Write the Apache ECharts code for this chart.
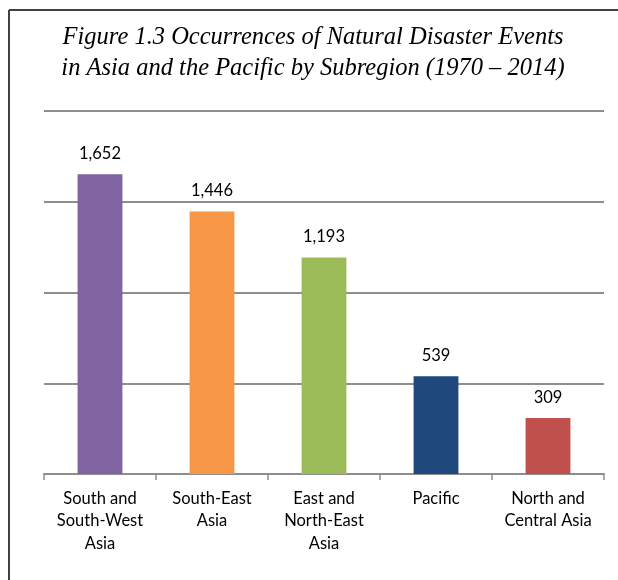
<!DOCTYPE html>
<html>
<head>
<meta charset="utf-8">
<script src="https://cdn.jsdelivr.net/npm/echarts@6/dist/echarts.min.js"></script>
<style>
html,body{margin:0;padding:0;background:#fff;overflow:hidden;}
#c{width:618px;height:580px;}
</style>
</head>
<body>
<div id="c"></div>
<script>
const titleLines = ['Figure 1.3 Occurrences of Natural Disaster Events', 'in Asia and the Pacific by Subregion (1970 \u2013 2014)'];
const categories = ['South and\nSouth-West\nAsia', 'South-East\nAsia', 'East and\nNorth-East\nAsia', 'Pacific', 'North and\nCentral Asia'];
const values = [1652, 1446, 1193, 539, 309];
const colors = ['#8064A2', '#F79646', '#9BBB59', '#1F497D', '#C0504D'];
const yTicks = { min: 0, max: 2000, interval: 500 };

const chart = echarts.init(document.getElementById('c'), null, { renderer: 'canvas' });
chart.setOption({
  animation: false,
  backgroundColor: '#fff',
  title: {
    text: titleLines.join('\n'),
    left: 308,
    top: 17,
    textAlign: 'center',
    textStyle: {
      fontFamily: 'Liberation Serif',
      fontStyle: 'italic',
      fontWeight: 'normal',
      fontSize: 24.5,
      lineHeight: 31,
      color: '#000'
    }
  },
  graphic: [
    { type: 'line', shape: { x1: 9, y1: 10, x2: 700, y2: 10 }, style: { stroke: '#404040', lineWidth: 2 }, silent: true },
    { type: 'line', shape: { x1: 9, y1: 10, x2: 9, y2: 700 }, style: { stroke: '#404040', lineWidth: 2 }, silent: true }
  ],
  grid: { left: 44, right: 14, top: 111, bottom: 106 },
  xAxis: {
    type: 'category',
    data: categories,
    axisLine: { lineStyle: { color: '#8e8e8e', width: 2 } },
    axisTick: { show: true, length: 6, alignWithLabel: false, lineStyle: { color: '#8e8e8e', width: 1.5 } },
    axisLabel: {
      interval: 0,
      margin: 13,
      fontFamily: 'Lato',
      fontSize: 16.5,
      lineHeight: 22.5,
      color: '#000'
    }
  },
  yAxis: {
    type: 'value',
    min: yTicks.min,
    max: yTicks.max,
    interval: yTicks.interval,
    axisLine: { show: false },
    axisTick: { show: false },
    axisLabel: { show: false },
    splitLine: { lineStyle: { color: '#8e8e8e', width: 2 } }
  },
  series: [{
    type: 'bar',
    data: values.map((v, i) => ({ value: v, itemStyle: { color: colors[i] } })),
    barWidth: '40%',
    label: {
      show: true,
      position: 'top',
      distance: 12,
      fontFamily: 'Lato',
      fontSize: 16.5,
      color: '#000',
      formatter: p => p.value.toLocaleString('en-US')
    }
  }]
});
</script>
</body>
</html>
